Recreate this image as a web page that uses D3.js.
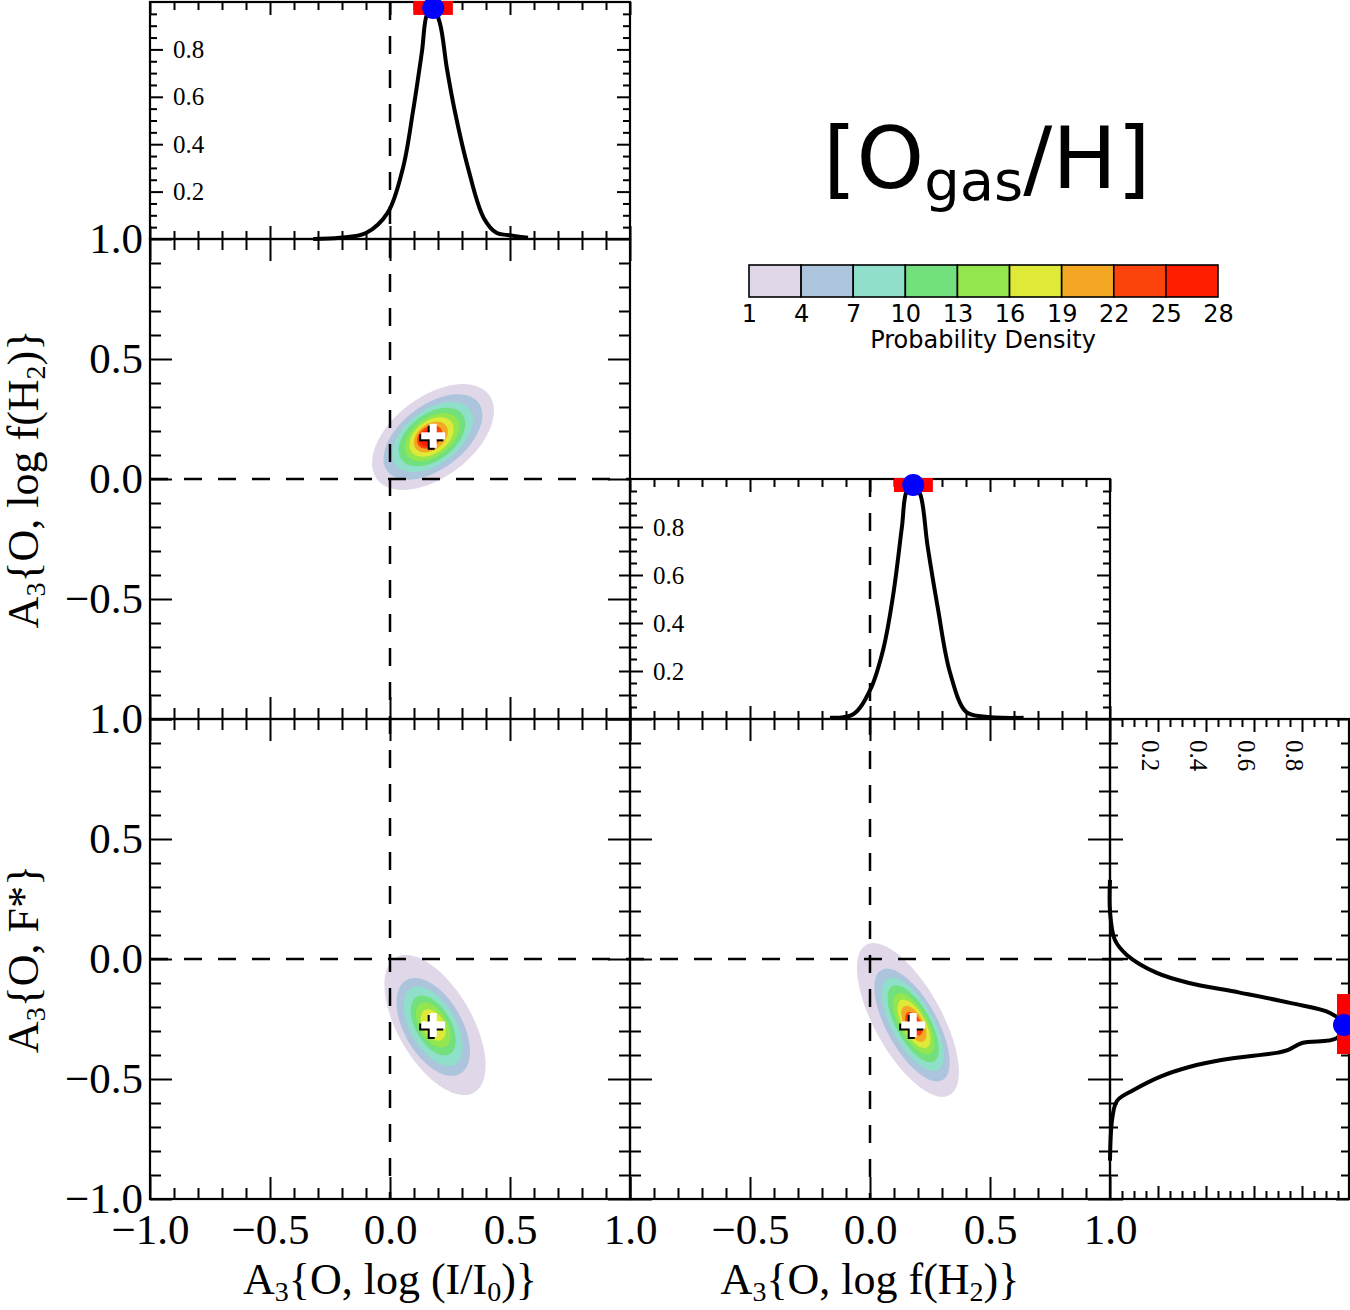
<!DOCTYPE html>
<html>
<head>
<meta charset="utf-8">
<script src="https://cdn.jsdelivr.net/npm/d3@7"></script>
<style>
  body { margin: 0; background: #fff; }
  svg { display: block; }
</style>
</head>
<body>
<div id="chart"></div>
<script>
// ---- tick values / labels
const gridMajor = [-1, -0.5, 0, 0.5, 1];
const gridMinor = [-0.9, -0.8, -0.7, -0.6, -0.4, -0.3, -0.2, -0.1, 0.1, 0.2, 0.3, 0.4, 0.6, 0.7, 0.8, 0.9];
const densMajor = [0.2, 0.4, 0.6, 0.8];
const densMinor = [0.05, 0.1, 0.15, 0.25, 0.3, 0.35, 0.45, 0.5, 0.55, 0.65, 0.7, 0.75, 0.85, 0.9, 0.95];
const rowTopLabels = [-0.5, 0, 0.5, 1];
const rowBotLabels = [-1, -0.5, 0, 0.5, 1];
const colLeftLabels = [-1, -0.5, 0, 0.5, 1];
const colMidLabels = [-0.5, 0, 0.5, 1];

// ---- colour levels (probability density)
const levels = [1, 4, 7, 10, 13, 16, 19, 22, 25, 28];
const levelColors = ["#e0d8e8", "#adc4dd", "#8fdfca", "#72e07c", "#94e64f", "#dfe938", "#f3a723", "#fd430c", "#ff1f00"];

// ---- 1D marginals
// A3{O, log(I/I0)}
const margIX = [-0.32, -0.21, -0.10, -0.01, 0.054, 0.096, 0.133, 0.155, 0.18, 0.208, 0.237, 0.27, 0.325, 0.39, 0.445, 0.49, 0.575];
const margID = [0.0, 0.005, 0.025, 0.11, 0.30, 0.54, 0.79, 0.95, 0.975, 0.91, 0.72, 0.54, 0.30, 0.09, 0.025, 0.017, 0.005];
// A3{O, log f(H2)}
const margHX = [-0.167, -0.07, 0.0, 0.055, 0.097, 0.133, 0.153, 0.18, 0.208, 0.24, 0.283, 0.333, 0.40, 0.47, 0.64];
const margHD = [0.005, 0.02, 0.12, 0.29, 0.52, 0.80, 0.95, 0.975, 0.94, 0.72, 0.46, 0.195, 0.03, 0.01, 0.005];
// A3{O, F*}
const margFY = [0.33, 0.20, 0.08, 0.017, -0.058, -0.10, -0.14, -0.183, -0.225, -0.275, -0.33, -0.35, -0.38, -0.39, -0.42, -0.45, -0.49, -0.545, -0.59, -0.66, -0.84];
const margFD = [0.0, 0.0, 0.02, 0.07, 0.195, 0.33, 0.54, 0.75, 0.917, 0.975, 0.945, 0.80, 0.74, 0.70, 0.47, 0.33, 0.21, 0.10, 0.03, 0.01, 0.0];

// best fit and uncertainty range: [I, H2, F*]
const bestVals = [0.18, 0.18, -0.275];
const errLo = [0.097, 0.10, -0.396];
const errHi = [0.262, 0.262, -0.146];
const peakD = 0.975;

// ---- 2D contours, one ellipse per level: [cx, cy, semi-major, semi-minor]
const contA = [[0.179, 0.175, 0.292, 0.167], [0.179, 0.175, 0.2375, 0.133], [0.177, 0.175, 0.192, 0.1125],
               [0.175, 0.175, 0.158, 0.096], [0.175, 0.175, 0.129, 0.079], [0.173, 0.175, 0.104, 0.067],
               [0.17, 0.175, 0.079, 0.054], [0.165, 0.175, 0.058, 0.042], [0.16, 0.172, 0.042, 0.031]];
const tiltA = 37;
const contB = [[0.1875, -0.275, 0.325, 0.155], [0.18, -0.283, 0.225, 0.12], [0.18, -0.28, 0.183, 0.095],
               [0.18, -0.277, 0.1375, 0.073], [0.18, -0.275, 0.104, 0.057], [0.18, -0.275, 0.071, 0.044]];
const tiltB = -60;
const contC = [[0.158, -0.254, 0.358, 0.14], [0.175, -0.275, 0.2625, 0.105], [0.178, -0.272, 0.217, 0.087],
               [0.18, -0.27, 0.179, 0.071], [0.182, -0.27, 0.142, 0.058], [0.183, -0.27, 0.1125, 0.047],
               [0.183, -0.27, 0.083, 0.038], [0.183, -0.27, 0.054, 0.029]];
const tiltC = -61;

// ---- canvas
const W = 1350, H = 1310;
const svg = d3.select("#chart").append("svg").attr("width", W).attr("height", H);

const serif = "'Liberation Serif','Times New Roman',serif";
const sans = "'DejaVu Sans',sans-serif";
const fmt = d3.format(".1f");

// scales
const xI = d3.scaleLinear([-1, 1], [150, 630]);
const xH = d3.scaleLinear([-1, 1], [630, 1110]);
const yH = d3.scaleLinear([-1, 1], [719, 239]);
const yF = d3.scaleLinear([-1, 1], [1199, 719]);
const dTop = d3.scaleLinear([0, 1], [239, 2]);
const dMid = d3.scaleLinear([0, 1], [719, 479]);
const dRight = d3.scaleLinear([0, 1], [1110, 1350]);

const gContours = svg.append("g");
const gLines = svg.append("g");
const gAxes = svg.append("g");
const gMarks = svg.append("g");

// ---- contours
function ellipsePath(e, tilt, xs, ys) {
    const [cx, cy, a, b] = e, th = tilt * Math.PI / 180;
    const pts = d3.range(0, 90).map(k => {
        const t = k / 90 * 2 * Math.PI;
        return [cx + a * Math.cos(t) * Math.cos(th) - b * Math.sin(t) * Math.sin(th),
                cy + a * Math.cos(t) * Math.sin(th) + b * Math.sin(t) * Math.cos(th)];
    });
    return d3.line().x(p => xs(p[0])).y(p => ys(p[1])).curve(d3.curveLinearClosed)(pts);
}
function drawContours(data, tilt, xs, ys) {
    gContours.append("g").selectAll("path").data(data).join("path")
        .attr("d", d => ellipsePath(d, tilt, xs, ys))
        .attr("fill", (d, i) => levelColors[i]);
}
drawContours(contA, tiltA, xI, yH);
drawContours(contB, tiltB, xI, yF);
drawContours(contC, tiltC, xH, yF);

// ---- dashed zero lines
const dash = {"stroke": "#000", "stroke-width": 2.5, "stroke-dasharray": "18,16", "fill": "none"};
function dline(x1, y1, x2, y2) {
    const l = gLines.append("line").attr("x1", x1).attr("y1", y1).attr("x2", x2).attr("y2", y2);
    Object.entries(dash).forEach(([k, v]) => l.attr(k, v));
}
dline(xI(0), dTop(1), xI(0), yF(-1));
dline(xI(-1), yH(0), xI(1), yH(0));
dline(xI(-1), yF(0), xH(1), yF(0));
dline(xH(0), dMid(1), xH(0), yF(-1));
dline(dRight(0), yF(0), dRight(1), yF(0));

// ---- 1D curves
const curve = d3.curveCatmullRom.alpha(0.5);
gLines.append("path")
    .attr("d", d3.line().x(i => xI(margIX[i])).y(i => dTop(margID[i])).curve(curve)(d3.range(margIX.length)))
    .attr("fill", "none").attr("stroke", "#000").attr("stroke-width", 4);
gLines.append("path")
    .attr("d", d3.line().x(i => xH(margHX[i])).y(i => dMid(margHD[i])).curve(curve)(d3.range(margHX.length)))
    .attr("fill", "none").attr("stroke", "#000").attr("stroke-width", 4);
gLines.append("path")
    .attr("d", d3.line().x(i => dRight(margFD[i])).y(i => yF(margFY[i])).curve(curve)(d3.range(margFY.length)))
    .attr("fill", "none").attr("stroke", "#000").attr("stroke-width", 4);

// ---- axes
function addAxis(orient, scale, pos, values, len, labels, pad, size) {
    const gen = {bottom: d3.axisBottom, top: d3.axisTop, left: d3.axisLeft, right: d3.axisRight}[orient](scale)
        .tickValues(values).tickSize(len).tickSizeOuter(0).tickPadding(pad || 0)
        .tickFormat(d => (labels && labels.includes(d)) ? fmt(d) : "");
    const horiz = orient === "bottom" || orient === "top";
    const g = gAxes.append("g")
        .attr("transform", horiz ? `translate(0,${pos})` : `translate(${pos},0)`)
        .call(gen);
    g.select(".domain").remove();
    g.selectAll("line").attr("stroke", "#000").attr("stroke-width", 2);
    g.selectAll("text").attr("fill", "#000").attr("font-family", serif).attr("font-size", size || 43);
    return g;
}
// 2D panel: ticks on all sides, pointing inward
function panel2D(xs, ys, xLabels, yLabels) {
    const [x0, x1] = xs.range(), [y0, y1] = ys.range();
    addAxis("bottom", xs, y0, gridMajor, -22, xLabels, 14);
    addAxis("bottom", xs, y0, gridMinor, -11);
    addAxis("top", xs, y1, gridMajor, -22);
    addAxis("top", xs, y1, gridMinor, -11);
    addAxis("left", ys, x0, gridMajor, -22, yLabels, 7);
    addAxis("left", ys, x0, gridMinor, -11);
    addAxis("right", ys, x1, gridMajor, -22);
    addAxis("right", ys, x1, gridMinor, -11);
    frame(x0, y1, x1, y0);
}
function frame(x0, y0, x1, y1) {
    gAxes.append("rect").attr("x", x0).attr("y", y0).attr("width", x1 - x0).attr("height", y1 - y0)
        .attr("fill", "none").attr("stroke", "#000").attr("stroke-width", 2.2);
}
// horizontal 1D histogram panel
function panelHist(xs, ds) {
    const [x0, x1] = xs.range(), [y0, y1] = ds.range();
    addAxis("bottom", xs, y0, gridMajor, -13);
    addAxis("bottom", xs, y0, gridMinor, -8);
    addAxis("top", xs, y1, gridMajor, -13);
    addAxis("top", xs, y1, gridMinor, -8);
    addAxis("right", ds, x0, densMajor, 13, densMajor, 10, 25);
    addAxis("right", ds, x0, densMinor, 7);
    addAxis("left", ds, x1, densMajor, 13);
    addAxis("left", ds, x1, densMinor, 7);
    frame(x0, y1, x1, y0);
}

panelHist(xI, dTop);
panelHist(xH, dMid);
panel2D(xI, yH, null, rowTopLabels);
panel2D(xI, yF, colLeftLabels, rowBotLabels);
panel2D(xH, yF, colMidLabels, null);

// vertical 1D histogram panel (F*)
addAxis("right", yF, 1110, gridMajor, 13);
addAxis("right", yF, 1110, gridMinor, 8);
addAxis("left", yF, 1349, gridMajor, 13);
addAxis("left", yF, 1349, gridMinor, 8);
const topR = addAxis("bottom", dRight, 719, densMajor, 13, densMajor, 0, 25);
topR.selectAll("text").attr("transform", "rotate(90)").attr("x", 21).attr("y", 17)
    .attr("dy", 0).attr("text-anchor", "start");
addAxis("bottom", dRight, 719, densMinor, 8);
addAxis("top", dRight, 1199, densMajor, 13);
addAxis("top", dRight, 1199, densMinor, 8);
frame(1110, 719, 1349, 1199);

// ---- best-fit markers
function histMarker(cx, cy, horiz, lo, hi) {
    if (horiz) {
        gMarks.append("rect").attr("x", lo).attr("y", cy - 7).attr("width", hi - lo).attr("height", 14).attr("fill", "#ff0000");
    } else {
        gMarks.append("rect").attr("x", cx - 7).attr("y", lo).attr("width", 14).attr("height", hi - lo).attr("fill", "#ff0000");
    }
    gMarks.append("circle").attr("cx", cx).attr("cy", cy).attr("r", 11).attr("fill", "#0000ff");
}
histMarker(xI(bestVals[0]), dTop(peakD), true, xI(errLo[0]), xI(errHi[0]));
histMarker(xH(bestVals[1]), dMid(peakD), true, xH(errLo[1]), xH(errHi[1]));
histMarker(dRight(peakD), yF(bestVals[2]), false, yF(errHi[2]), yF(errLo[2]));

function cross(cx, cy) {
    const L = 12, T = 3.5;
    [["#000", -2, 2], ["#fff", 0, 0]].forEach(([c, ox, oy]) => {
        gMarks.append("rect").attr("x", cx - L + ox).attr("y", cy - T + oy).attr("width", 2 * L).attr("height", 2 * T).attr("fill", c);
        gMarks.append("rect").attr("x", cx - T + ox).attr("y", cy - L + oy).attr("width", 2 * T).attr("height", 2 * L).attr("fill", c);
    });
}
cross(xI(bestVals[0]), yH(bestVals[1]));
cross(xI(bestVals[0]), yF(bestVals[2]));
cross(xH(bestVals[1]), yF(bestVals[2]));

// ---- axis titles (subscripts as smaller, lowered tspans)
function title(sel, parts) {
    let prevSub = false;
    parts.forEach(([t, sub]) => {
        sel.append("tspan").text(t)
            .attr("font-size", sub ? 28 : null)
            .attr("dy", sub ? 7 : (prevSub ? -7 : 0));
        prevSub = !!sub;
    });
}
const lblFont = 44;
const tl1 = svg.append("text").attr("transform", "translate(38,479) rotate(-90)")
    .attr("text-anchor", "middle").attr("font-family", serif).attr("font-size", lblFont);
title(tl1, [["A"], ["3", true], ["{O, log f(H"], ["2", true], [")}"]]);
const tl2 = svg.append("text").attr("transform", "translate(38,959) rotate(-90)")
    .attr("text-anchor", "middle").attr("font-family", serif).attr("font-size", lblFont);
title(tl2, [["A"], ["3", true], ["{O, F*}"]]);
const tb1 = svg.append("text").attr("x", 390).attr("y", 1294)
    .attr("text-anchor", "middle").attr("font-family", serif).attr("font-size", lblFont);
title(tb1, [["A"], ["3", true], ["{O, log (I/I"], ["0", true], [")}"]]);
const tb2 = svg.append("text").attr("x", 870).attr("y", 1294)
    .attr("text-anchor", "middle").attr("font-family", serif).attr("font-size", lblFont);
title(tb2, [["A"], ["3", true], ["{O, log f(H"], ["2", true], [")}"]]);

// ---- big title
const ttl = svg.append("text").attr("x", 823).attr("y", 188).attr("font-family", sans).attr("font-size", 86);
ttl.append("tspan").text("[O");
ttl.append("tspan").text("gas").attr("font-size", 56).attr("dy", 12);
ttl.append("tspan").text("/H]").attr("dy", -12);

// ---- colour bar
const cb = d3.scaleLinear([1, 28], [749, 1218]);
const gcb = svg.append("g");
gcb.selectAll("rect").data(d3.range(levels.length - 1)).join("rect")
    .attr("x", i => cb(levels[i])).attr("y", 265)
    .attr("width", i => cb(levels[i + 1]) - cb(levels[i])).attr("height", 32)
    .attr("fill", i => levelColors[i]).attr("stroke", "#000").attr("stroke-width", 1.6);
const cbAxis = gcb.append("g").attr("transform", "translate(0,297)")
    .call(d3.axisBottom(cb).tickValues(levels).tickSize(0).tickPadding(8).tickFormat(d3.format("d")));
cbAxis.select(".domain").remove();
cbAxis.selectAll("text").attr("font-family", sans).attr("font-size", 24).attr("fill", "#000");
gcb.append("text").attr("x", 983).attr("y", 348).attr("text-anchor", "middle")
    .attr("font-family", sans).attr("font-size", 24).text("Probability Density");
</script>
</body>
</html>
